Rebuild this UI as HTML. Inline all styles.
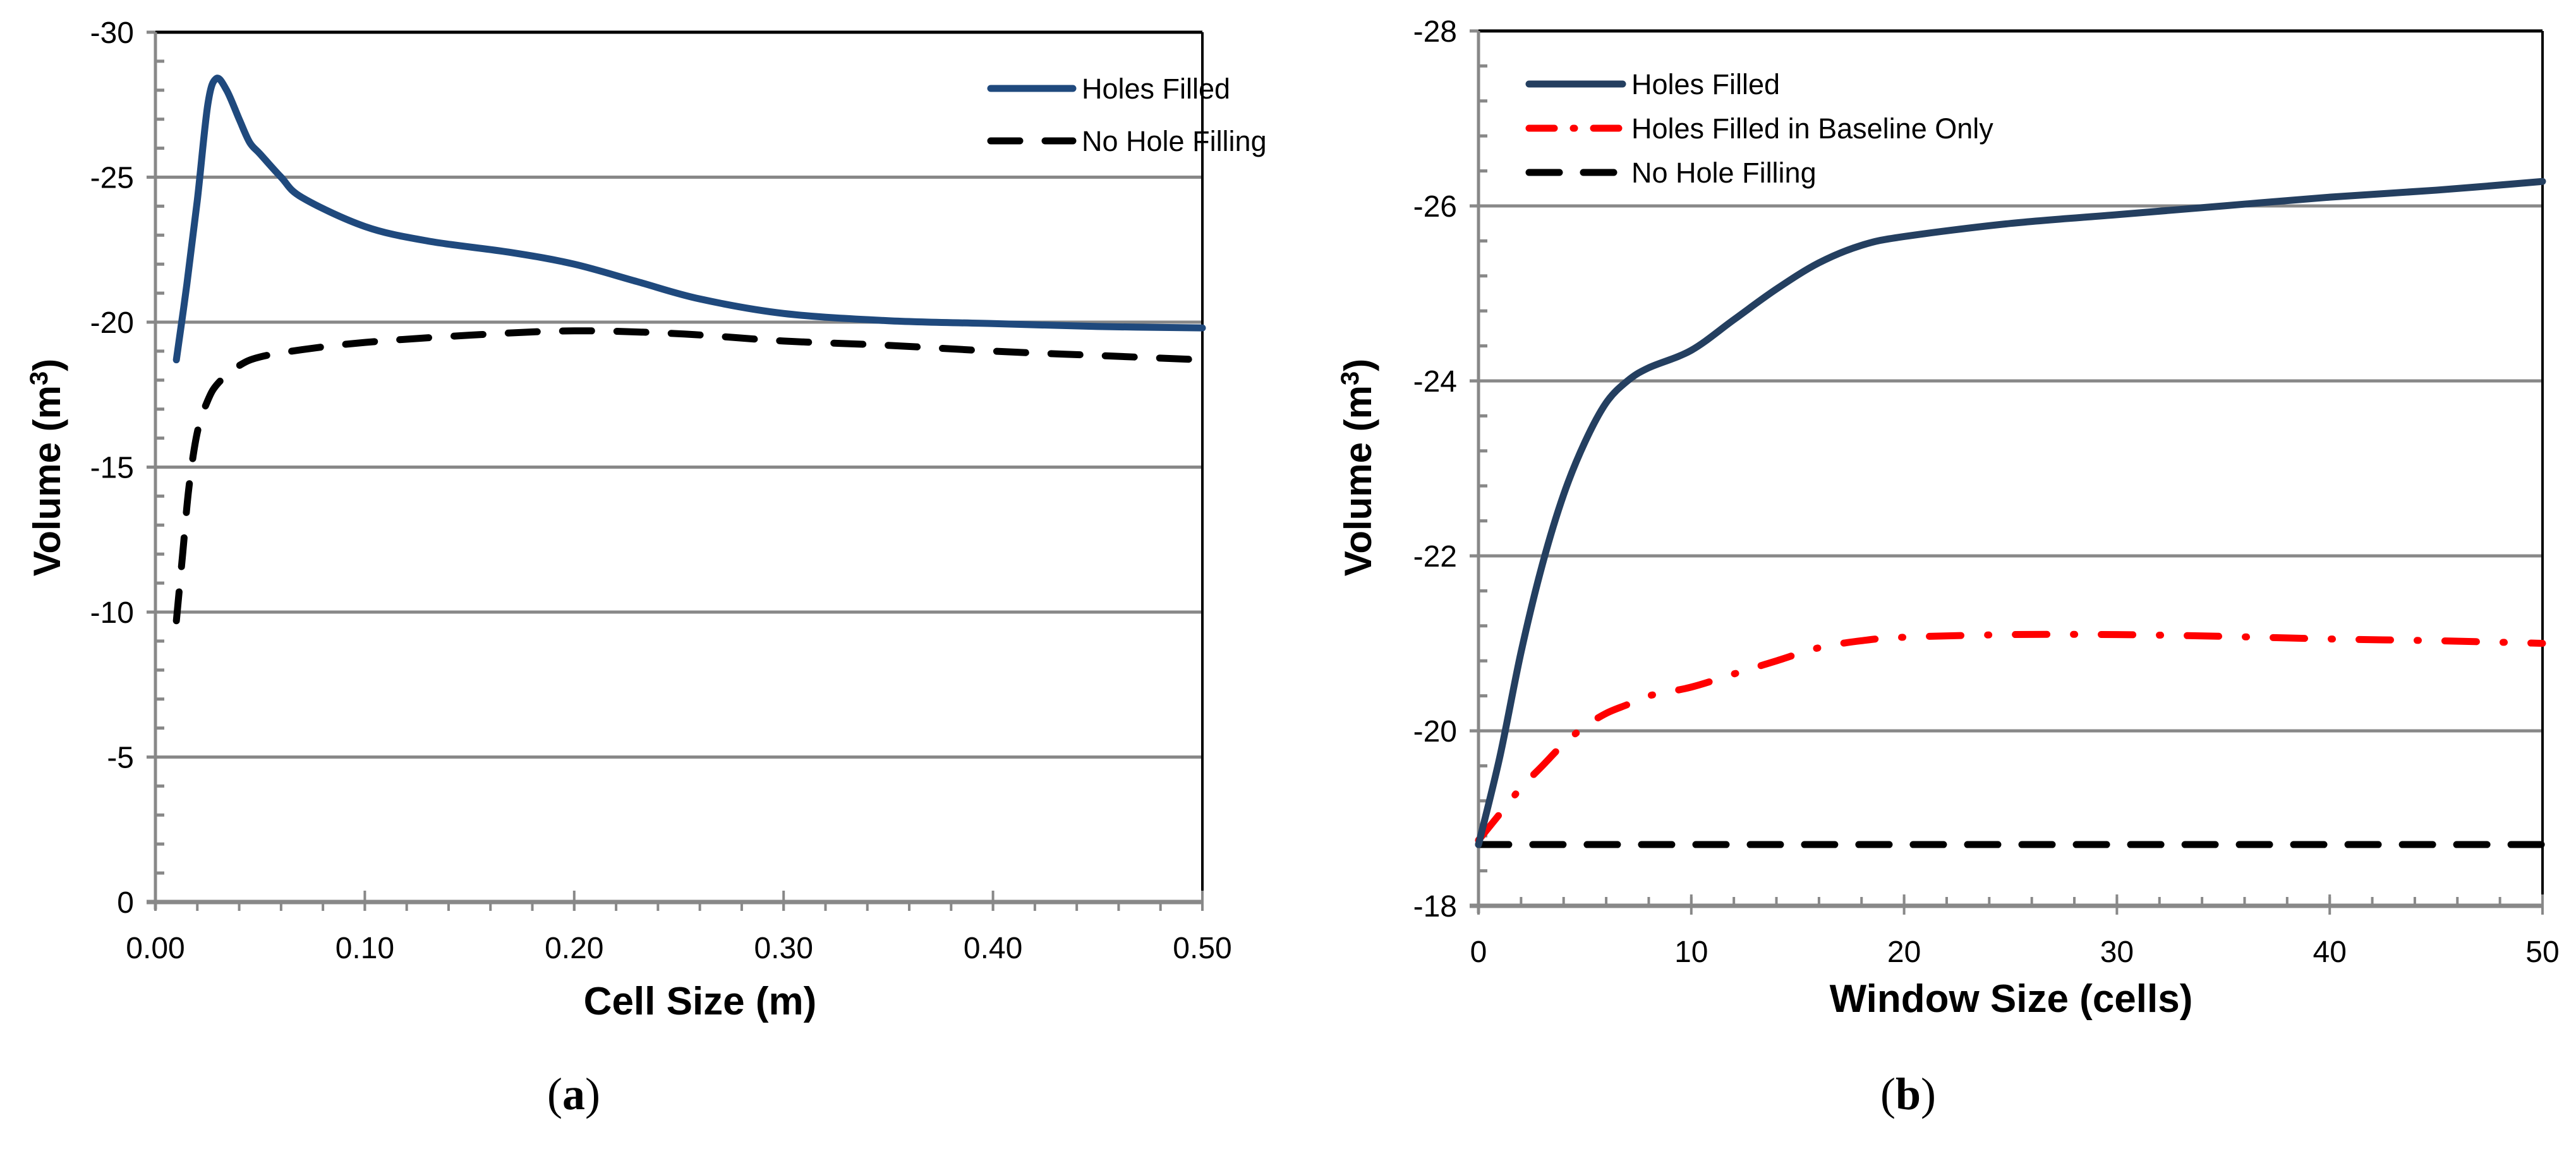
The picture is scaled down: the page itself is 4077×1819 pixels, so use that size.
<!DOCTYPE html>
<html><head><meta charset="utf-8"><style>
html,body{margin:0;padding:0;background:#fff;}
svg{display:block;}
text{font-family:"Liberation Sans",sans-serif;fill:#000;}
</style></head><body>
<svg id="fig" width="4077" height="1819" viewBox="0 0 4077 1819" xmlns="http://www.w3.org/2000/svg"></svg>
<script>
// ---- Chart (a) data ----
const aX = [0.01,0.015,0.02,0.025,0.029,0.034,0.04,0.045,0.05,0.06,0.07,0.1,0.13,0.17,0.2,0.23,0.26,0.3,0.35,0.4,0.45,0.5];
const aHoles = [-18.7,-21.3,-24.2,-27.5,-28.4,-28.0,-27.0,-26.2,-25.8,-25.0,-24.3,-23.3,-22.8,-22.4,-22.0,-21.4,-20.8,-20.3,-20.05,-19.95,-19.85,-19.8];
const aNoX = [0.01,0.013,0.016,0.02,0.025,0.03,0.04,0.05,0.07,0.1,0.15,0.2,0.25,0.3,0.35,0.4,0.45,0.5];
const aNoFill = [-9.7,-12.0,-14.3,-16.2,-17.3,-17.9,-18.5,-18.8,-19.05,-19.3,-19.55,-19.7,-19.6,-19.35,-19.2,-19.0,-18.85,-18.7];
const aYTicks = ["0","-5","-10","-15","-20","-25","-30"];
const aXTicks = ["0.00","0.10","0.20","0.30","0.40","0.50"];
// ---- Chart (b) data ----
const bX = [0,1,2,3,4,5,6,7,8,10,12,14,16,18,20,25,30,35,40,45,50];
const bHoles = [-18.7,-19.7,-20.9,-21.9,-22.7,-23.3,-23.75,-24.0,-24.15,-24.35,-24.7,-25.05,-25.35,-25.55,-25.65,-25.8,-25.9,-26.0,-26.1,-26.18,-26.28];
const bBase = [-18.75,-19.05,-19.35,-19.6,-19.85,-20.05,-20.2,-20.3,-20.4,-20.5,-20.65,-20.8,-20.95,-21.03,-21.07,-21.1,-21.1,-21.08,-21.05,-21.03,-21.0];
const bNoX = [0,50];
const bNoFill = [-18.7,-18.7];
const bYTicks = ["-18","-20","-22","-24","-26","-28"];
const bXTicks = ["0","10","20","30","40","50"];

const NS="http://www.w3.org/2000/svg";
const svg=document.getElementById('fig');
function el(tag,attrs,parent){const e=document.createElementNS(NS,tag);for(const k in attrs)e.setAttribute(k,attrs[k]);(parent||svg).appendChild(e);return e;}
function smooth(pts){let d=`M${pts[0][0]},${pts[0][1]}`;for(let i=0;i<pts.length-1;i++){const p0=pts[Math.max(0,i-1)],p1=pts[i],p2=pts[i+1],p3=pts[Math.min(pts.length-1,i+2)];const c1=[p1[0]+(p2[0]-p0[0])/6,p1[1]+(p2[1]-p0[1])/6];const c2=[p2[0]-(p3[0]-p1[0])/6,p2[1]-(p3[1]-p1[1])/6];d+=` C${c1[0]},${c1[1]} ${c2[0]},${c2[1]} ${p2[0]},${p2[1]}`;}return d;}

function chart(o){
  const g=el('g',{});
  
  
  const sx=v=>o.L+(v-o.x0)/(o.x1-o.x0)*(o.R-o.L);
  const sy=v=>o.B-(v-o.y0)/(o.y1-o.y0)*(o.B-o.T);
  for(let v=o.y0;Math.abs(v)<=Math.abs(o.y1)+1e-9;v+=o.yMinor){const t=el('line',{x1:o.L,x2:o.L+14,y1:sy(v),y2:sy(v),stroke:'#888','stroke-width':5},g);}
  o.yTicks.forEach(s=>{const v=parseFloat(s);const y=sy(v);
    if(v!==o.y0&&v!==o.y1){const gl=el('line',{x1:o.L-14,x2:o.R,y1:y,y2:y,stroke:'#888','stroke-width':5},g);}
    const t=el('text',{x:o.L-34,y:y+17,'text-anchor':'end','font-size':48},g);t.textContent=s;});
  const tb=el('line',{x1:o.L,x2:o.R,y1:o.T,y2:o.T,stroke:'#000','stroke-width':5},g);
  const rb=el('line',{x1:o.R,x2:o.R,y1:o.T,y2:o.B,stroke:'#000','stroke-width':4},g);
  el('line',{x1:o.L-14,x2:o.L,y1:o.T,y2:o.T,stroke:'#888','stroke-width':5},g);
  const ya=el('line',{x1:o.L,x2:o.L,y1:o.T,y2:o.B+12,stroke:'#888','stroke-width':5},g);
  const xa=el('line',{x1:o.L-14,x2:o.R,y1:o.B,y2:o.B,stroke:'#888','stroke-width':7},g);
  for(let v=o.x0;v<=o.x1+1e-9;v+=o.xMinor){const x=sx(v);const t=el('line',{x1:x,x2:x,y1:o.B+o.minorDown,y2:o.B-o.minorUp,stroke:'#888','stroke-width':4},g);}
  o.xTicks.forEach(s=>{const v=parseFloat(s);const x=sx(v);
    const t=el('line',{x1:x,x2:x,y1:o.B+14,y2:o.B-18,stroke:'#888','stroke-width':4},g);
    const l=el('text',{x:x,y:o.xLabY,'text-anchor':'middle','font-size':48},g);l.textContent=s;});
  o.series.forEach(s=>{const pts=s.x.map((v,i)=>[sx(v),sy(s.y[i])]);
    const p=el('path',{d:smooth(pts),fill:'none',stroke:s.color,'stroke-width':s.w||11,'stroke-linecap':'round','stroke-linejoin':'round'},g);
    if(s.dash)p.setAttribute('stroke-dasharray',s.dash);
    });
  o.legend.forEach((s,i)=>{const y=o.legY+i*o.legGap;
    const lg=el('g',{},g);
    const l=el('line',{x1:o.legX,x2:o.legX+o.legLen,y1:y,y2:y,stroke:s.color,'stroke-width':s.w||11,'stroke-linecap':'round'},lg);
    if(s.dash)l.setAttribute('stroke-dasharray',s.dash);
    const t=el('text',{x:o.legX+o.legLen+14,y:y+16,'font-size':45},lg);t.textContent=s.label;});
  const xt=el('text',{x:o.xTitleX,y:o.xTitleY,'text-anchor':'middle','font-size':62,'font-weight':'bold'},g);xt.textContent=o.xTitle;
  const yt=el('text',{x:0,y:0,'text-anchor':'middle','font-size':60,'font-weight':'bold',transform:`translate(${o.yTitleX},${o.yTitleY}) rotate(-90)`},g);
  yt.innerHTML='Volume (m<tspan font-size="40" dy="-20">3</tspan><tspan dy="20">)</tspan>';
  const cap=el('text',{x:o.capX,y:1756,'text-anchor':'middle','font-size':72,style:'font-family:"Liberation Serif",serif'},g);
  cap.innerHTML='(<tspan font-weight="bold">'+o.cap+'</tspan>)';
}
const blue='#1f497d', dblue='#243f60';
chart({name:'chart-a',L:246,R:1903,T:51,B:1428,x0:0,x1:0.5,y0:0,y1:-30,yMinor:-1,xMinor:0.02,minorDown:14,minorUp:0,
  yTicks:aYTicks,xTicks:aXTicks,xLabY:1517,
  series:[{name:'series-no-hole-filling',x:aNoX,y:aNoFill,color:'#000',dash:'46 40'},{name:'series-holes-filled',x:aX,y:aHoles,color:blue}],
  legend:[{label:'Holes Filled',color:blue},{label:'No Hole Filling',color:'#000',dash:'46 40'}],legX:1568,legLen:130,legY:140,legGap:83,
  xTitle:'Cell Size (m)',xTitleX:1108,xTitleY:1606,yTitleX:95,yTitleY:740,cap:'a',capX:908});
chart({name:'chart-b',L:2340,R:4024,T:49,B:1434,x0:0,x1:50,y0:-18,y1:-28,yMinor:-0.4,xMinor:2,minorDown:0,minorUp:14,
  yTicks:bYTicks,xTicks:bXTicks,xLabY:1523,
  series:[{name:'series-no-hole-filling',x:bNoX,y:bNoFill,color:'#000',dash:'48 38'},{name:'series-holes-filled-baseline-only',x:bX,y:bBase,color:'#f00',dash:'50 42 2 42'},{name:'series-holes-filled',x:bX,y:bHoles,color:dblue}],
  legend:[{label:'Holes Filled',color:dblue},{label:'Holes Filled in Baseline Only',color:'#f00',dash:'40 30 2 30'},{label:'No Hole Filling',color:'#000',dash:'48 38'}],legX:2420,legLen:148,legY:133,legGap:70,
  xTitle:'Window Size (cells)',xTitleX:3183,xTitleY:1602,yTitleX:2170,yTitleY:740,cap:'b',capX:3020});
</script>
</body></html>
